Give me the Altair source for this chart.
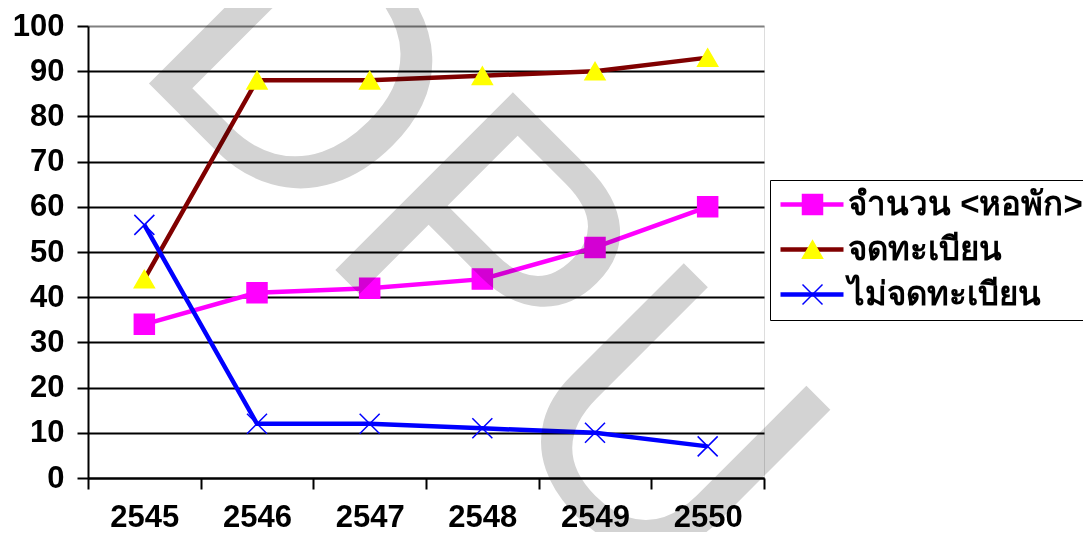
import altair as alt
import pandas as pd

years = ['2545', '2546', '2547', '2548', '2549', '2550']
series_names = ['จำนวน <หอพัก>', 'จดทะเบียน', 'ไม่จดทะเบียน']
marker_keys = ['m1', 'm2', 'm3']
dorms = [34, 41, 42, 44, 51, 60]
registered = [44, 88, 88, 89, 90, 93]
unregistered = [56, 12, 12, 11, 10, 7]
line_colors = ['#ff00ff', '#800000', '#0000ff']
marker_colors = ['#ff00ff', '#ffff00', '#0000ff']
marker_shapes = ['square', 'triangle-up', 'M-1,-1L1,1M-1,1L1,-1']
y_ticks = list(range(0, 101, 10))
watermark = ['DPU']

rows = []
for name, key, vals in zip(series_names, marker_keys, [dorms, registered, unregistered]):
    for yr, v in zip(years, vals):
        rows.append({'year': yr, 'value': v, 'series': name, 'marker': key})
df = pd.DataFrame(rows)

FONT = 'Liberation Sans'

x_enc = alt.X(
    'year:O',
    bandPosition=0.5,
    scale=alt.Scale(type='band', paddingInner=0, paddingOuter=0),
    axis=alt.Axis(
        title=None, labelAngle=0, tickBand='extent', grid=False,
        domainColor='black', domainWidth=2, tickColor='black', tickWidth=2, tickSize=11,
        labelFont=FONT, labelFontSize=31, labelFontWeight='bold', labelColor='black',
        labelPadding=13,
    ),
)
y_enc = alt.Y(
    'value:Q',
    scale=alt.Scale(domain=[0, 100], nice=False),
    axis=alt.Axis(
        title=None, values=y_ticks, grid=True,
        gridColor={'condition': {'test': 'datum.value == 100', 'value': '#808080'}, 'value': 'black'},
        gridWidth=2, domainColor='black', domainWidth=2, tickColor='black', tickWidth=2,
        tickSize=11, labelFont=FONT, labelFontSize=31, labelFontWeight='bold',
        labelColor='black', labelPadding=13,
    ),
)

LEG_X = 682
LEG_Y = 154
common_leg = dict(
    title=None, orient='none', legendY=LEG_Y, symbolSize=400, labelFont=FONT,
    labelFontSize=33, labelFontWeight='bold', labelOffset=37, rowPadding=11,
    padding=8, labelLimit=500,
)

lines = alt.Chart(df).mark_line(strokeWidth=4.5).encode(
    x=x_enc,
    y=y_enc,
    color=alt.Color(
        'series:N',
        scale=alt.Scale(domain=series_names, range=line_colors),
        legend=alt.Legend(
            legendX=LEG_X, symbolType='M-1.4,0H4.9', symbolStrokeWidth=4.5,
            strokeColor='black', fillColor='white', labelColor='black', zindex=1,
            **common_leg,
        ),
    ),
    order=alt.Order('marker:N'),
)

pt_legend = alt.Legend(
    legendX=LEG_X + 18, symbolStrokeWidth=1.5, labelColor='transparent', zindex=2,
    labelExpr="' '",
    **common_leg,
)
points = alt.Chart(df).mark_point(filled=True, size=400, strokeWidth=1.5, opacity=1).encode(
    x=x_enc,
    y=y_enc,
    shape=alt.Shape('marker:N', scale=alt.Scale(domain=marker_keys, range=marker_shapes), legend=pt_legend),
    fill=alt.Fill('marker:N', scale=alt.Scale(domain=marker_keys, range=marker_colors), legend=pt_legend),
    stroke=alt.Stroke('marker:N', scale=alt.Scale(domain=marker_keys, range=marker_colors), legend=pt_legend),
)

wm = alt.Chart(pd.DataFrame({'t': watermark})).mark_text(
    angle=45, fontSize=365, font=FONT, color='#d3d3d3', blend='multiply',
    align='center', baseline='middle',
).encode(x=alt.value(390), y=alt.value(231), text='t:N')

chart = alt.layer(lines, points, wm).properties(
    width=676, height=452,
    padding={'left': 80, 'top': 18, 'right': 319, 'bottom': 54},
    autosize=alt.AutoSizeParams(type='none'),
).configure_view(stroke='#808080', strokeWidth=1.5).configure(background='white')

chart.save('out.html', embed_options={'renderer': 'svg', 'actions': False})
